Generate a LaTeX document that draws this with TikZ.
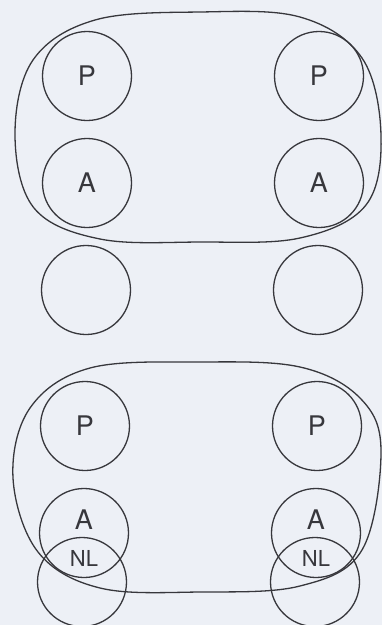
\documentclass[tikz,border=0pt]{standalone}
\usepackage{fontspec}
\setmainfont{TeX Gyre Heros}
\usetikzlibrary{positioning}
\definecolor{paper}{RGB}{237,240,246}
\definecolor{ink}{RGB}{55,55,60}

\begin{document}
\begin{tikzpicture}[x=1pt,y=-1pt,
    unit/.style={draw=ink,line width=1.3pt,circle,minimum size=89pt,inner sep=0pt},
    tag/.style={text=ink,font=\fontsize{27}{27}\selectfont},
    smalltag/.style={text=ink,font=\fontsize{22}{22}\selectfont},
    blob/.style={draw=ink,line width=1.3pt}]
    % Paper
    \fill[paper] (0,0) rectangle (382,625);
    \useasboundingbox (0,0) rectangle (382,625);

    % Top group: circles
    \node[unit] (tPl) at (87,76) {};
    \node[unit] (tAl) at (87,183) {};
    \node[unit] (tEl) at (86,290) {};
    \node[unit] (tPr) at (319,76) {};
    \node[unit] (tAr) at (319,183) {};
    \node[unit] (tEr) at (318,290) {};
    \foreach \c/\t in {tPl/P, tAl/A, tPr/P, tAr/A}
        \node[tag] (\c-t) at (\c.center) {\t};

    % Top group: outline
    \draw[blob] plot[smooth cycle,tension=0.6] coordinates {
        (15,135) (33,60) (95,20) (200,12) (300,17) (362,58) (381,135)
        (366,205) (300,238) (200,242) (100,239) (34,208)};

    % Bottom group: circles
    \node[unit] (bPl) at (85,426) {};
    \node[unit] (bAl) at (84,533) {};
    \node[unit] (bNl) at (82,582) {};
    \node[unit] (bPr) at (317,426) {};
    \node[unit] (bAr) at (316,533) {};
    \node[unit] (bNr) at (315,582) {};
    \foreach \c in {bPl, bPr}
        \node[tag] (\c-t) at (\c.center) {P};
    \foreach \c in {bAl, bAr}
        \node[tag] (\c-t) at ([yshift=13pt]\c.center) {A};
    \node[smalltag] (bNl-t) at (84,558) {NL};
    \node[smalltag] (bNr-t) at (316,558) {NL};

    % Bottom group: outline
    \draw[blob] plot[smooth cycle,tension=0.6] coordinates {
        (13,478) (30,408) (90,368) (200,362) (300,367) (360,398) (381,450)
        (362,550) (300,586) (200,592) (100,588) (38,552)};
\end{tikzpicture}
\end{document}
